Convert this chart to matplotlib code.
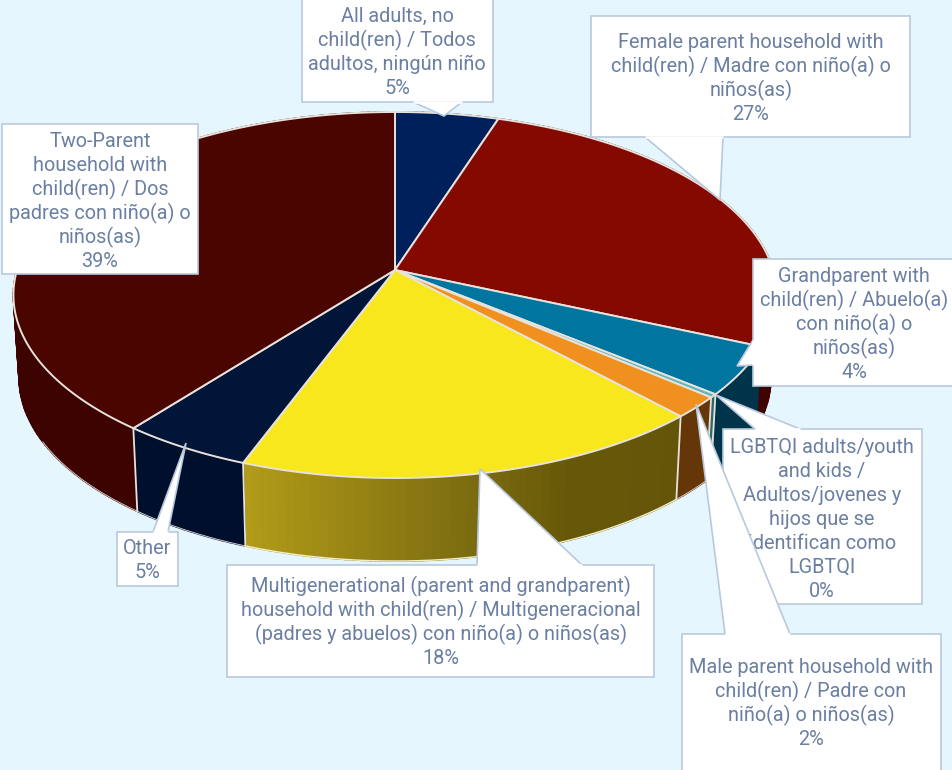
import numpy as np
import matplotlib
matplotlib.use("Agg")
import matplotlib.pyplot as plt
from matplotlib.colors import to_rgb
from matplotlib.patches import Polygon

plt.rcParams['font.family'] = ['Roboto', 'DejaVu Sans']

# ---- data ----
categories = [
    "All adults, no\nchild(ren) / Todos\nadultos, ningún niño",
    "Female parent household with\nchild(ren) / Madre con niño(a) o\nniños(as)",
    "Grandparent with\nchild(ren) / Abuelo(a)\ncon niño(a) o\nniños(as)",
    "LGBTQI adults/youth\nand kids /\nAdultos/jovenes y\nhijos que se\nidentifican como\nLGBTQI",
    "Male parent household with\nchild(ren) / Padre con\nniño(a) o niños(as)",
    "Multigenerational (parent and grandparent)\nhousehold with child(ren) / Multigeneracional\n(padres y abuelos) con niño(a) o niños(as)",
    "Other",
    "Two-Parent\nhousehold with\nchild(ren) / Dos\npadres con niño(a) o\nniños(as)",
]
values = [5.0, 26.6, 4.3, 0.3, 1.9, 17.6, 4.9, 39.4]

# ---- styles ----
top_colors = ["#00205b", "#840900", "#00759f", "#5cb6ba", "#f0901e", "#f8e71c", "#001538", "#4b0500"]
wall_colors = ["#001030", "#3f0300", "#00344a", "#2b6b70", "#653708", "#645509", "#00102c", "#3d0300"]
BG = "#e6f6fe"
EDGE = "#e8e2dc"
TEXT = "#6a7fa2"
BORDER = "#b9c9dd"
FS = 14.3
LINE_PITCH = 23.9
BASE_OFFSET = 7.0

# ---- layout (figure pixels) ----
CX, CY, A, B, K = 395.0, 270.0, 378.0, 179.6, 0.1366
DEPTH, SHRINK = 83.0, 0.985

# box (x0, y0, x1, y1), pointer polygon, text centre
label_layout = [
    ((302, -2, 493, 102), [(413, 102), (444, 116), (462, 102)], (397, 51)),
    ((591, 16, 910, 137), [(645, 137), (720, 200), (723, 137)], (751, 77)),
    ((753, 259, 960, 386), [(753, 340), (737, 366), (753, 365)], (854, 323)),
    ((723, 429, 922, 604), [(755, 429), (716, 395), (800, 429)], (822, 518)),
    ((682, 634, 941, 772), [(725, 634), (696, 404), (790, 634)], (811, 702)),
    ((227, 565, 654, 677), [(477, 565), (480, 469), (582, 565)], (441, 621)),
    ((117, 532, 178, 586), [(153, 532), (186, 443), (168, 532)], (147, 559)),
    ((2, 124, 198, 274), [], (100, 200)),
]


def rim(theta):
    u, v = np.sin(theta), np.cos(theta)
    w = 1 + K * v
    return CX + A * u / w, CY - B * v / w


def rim_low(theta):
    x, y = rim(theta)
    return CX + (x - CX) * SHRINK, y + DEPTH


def yellow_wall(t):
    """t = 0 at the right end of the slice, 1 at the left end."""
    stops = [0.0, 0.3, 0.5, 1.0]
    cols = np.array([to_rgb(c) for c in ["#645509", "#675809", "#7a6a10", "#b29c18"]])
    return tuple(np.interp(t, stops, cols[:, i]) for i in range(3))


fig = plt.figure(figsize=(9.52, 7.7), dpi=100, facecolor=BG)
ax = fig.add_axes([0, 0, 1, 1])
ax.set_xlim(0, 952)
ax.set_ylim(770, 0)
ax.axis("off")

edges = 2 * np.pi * np.concatenate([[0], np.cumsum(values)]) / np.sum(values)

# walls, back to front
for i, val in enumerate(values):
    a0, a1 = edges[i], edges[i + 1]
    n = max(3, int((a1 - a0) / 0.02))
    ts = np.linspace(a0, a1, n + 1)
    for j in range(n):
        tt = np.linspace(ts[j], ts[j + 1], 3)
        xt, yt = rim(tt)
        xb, yb = rim_low(tt[::-1])
        col = yellow_wall((j + 0.5) / n) if i == 5 else wall_colors[i]
        ax.add_patch(Polygon(np.c_[np.r_[xt, xb], np.r_[yt, yb]], closed=True,
                             facecolor=col, edgecolor=col, lw=1.2, zorder=1))
    mask = np.cos(ts) < -0.45
    xb, yb = rim_low(ts[mask])
    if i == 5:
        ax.plot(xb, yb, color="#f4efc8", lw=1.0, zorder=1.5)
    elif i in (4, 6, 7):
        ax.plot(xb, yb, color="#e4ded8", lw=0.6, zorder=1.5)

# wall dividers on the front half
for a in edges[3:-1]:
    xt, yt = rim(a)
    xb, yb = rim_low(a)
    ax.plot([xt, xb], [yt, yb], color=EDGE, lw=1.3, zorder=1.6)

# top faces
for i, val in enumerate(values):
    a0, a1 = edges[i], edges[i + 1]
    ts = np.linspace(a0, a1, max(3, int((a1 - a0) / 0.01)))
    xs, ys = rim(ts)
    pts = np.c_[np.r_[CX, xs], np.r_[CY, ys]]
    ax.add_patch(Polygon(pts, closed=True, facecolor=top_colors[i],
                         edgecolor=EDGE, lw=1.4, joinstyle="round", zorder=2))

# callouts
for i, (val, cat) in enumerate(zip(values, categories)):
    (x0, y0, x1, y1), pointer, (tx, ty) = label_layout[i]
    z = 3 + i * 0.1
    if i == 4:
        z = 4
    ax.add_patch(Polygon([(x0, y0), (x1, y0), (x1, y1), (x0, y1)], closed=True,
                         facecolor="white", edgecolor=BORDER, lw=1.2, zorder=z))
    if pointer:
        ax.add_patch(Polygon(pointer, closed=False, facecolor="white",
                             edgecolor=BORDER, lw=1.2, zorder=z + 0.01))
        # hide the box border where the pointer joins it
        (px0, py0), (px1, py1) = pointer[0], pointer[-1]
        ax.plot([px0, px1], [py0, py1], color="white", lw=1.8,
                solid_capstyle="butt", zorder=z + 0.02)
    lines = f"{cat}\n{round(val)}%".split("\n")
    first = ty - (len(lines) - 1) / 2 * LINE_PITCH + BASE_OFFSET
    for k, line in enumerate(lines):
        ax.text(tx, first + k * LINE_PITCH, line, ha="center", va="baseline",
                fontsize=FS, color=TEXT, zorder=z + 0.005)

fig.savefig("out.png", dpi=100, facecolor=BG)
